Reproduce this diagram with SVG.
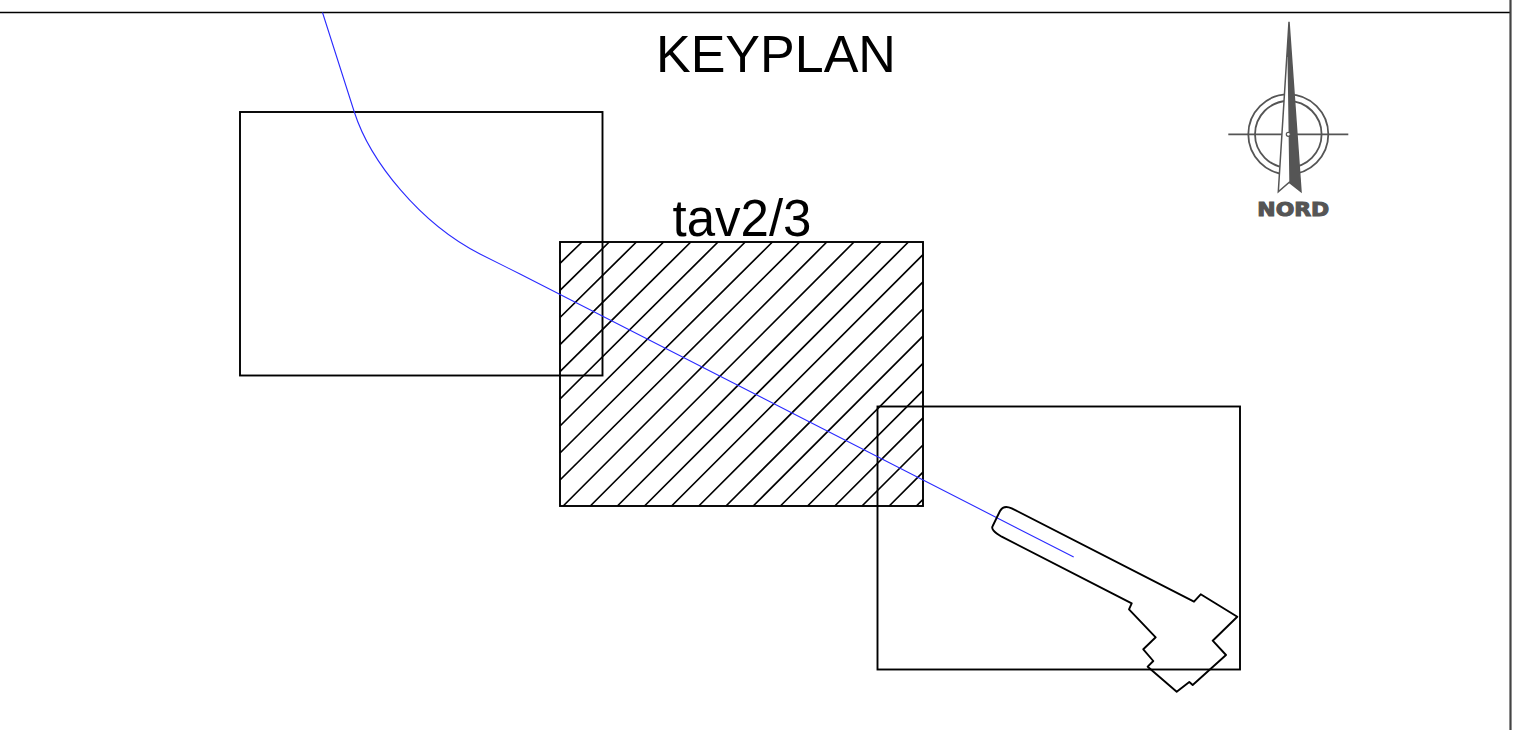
<svg xmlns="http://www.w3.org/2000/svg" width="1530" height="730" viewBox="0 0 1530 730">
<style>
.k{fill:none;stroke:#000;stroke-width:1.9}
.h{fill:none;stroke:#000;stroke-width:1.7}
.b{fill:none;stroke:#2a2aff;stroke-width:1.1}
.n{fill:none;stroke:#555;stroke-width:1.8}
.t{font-family:"Liberation Sans",Arial,sans-serif;fill:#000}
</style>
<rect width="1530" height="730" fill="#fff"/>
<g id="frame">
<path d="M0 12.5H1510.5" fill="none" stroke="#000" stroke-width="1.4"/>
<path d="M1510.5 0V730" fill="none" stroke="#444" stroke-width="2.2"/>
</g>
<text class="t" x="656" y="71.5" font-size="52">KEYPLAN</text>
<text class="t" x="672.5" y="236.3" font-size="51">tav2/3</text>
<path id="hatch" class="h" d="M560 263.3L582 242M560 290.4L609.2 242M560 317.5L636.4 242M560 344.6L663.6 242M560 371.7L690.8 242M560 399L718 242M560 426L745.2 242M560 453L772.4 242M560 480L799.6 242M563.2 506L826.8 242M590.3 506L854 242M617.4 506L881.2 242M644.5 506L908.4 242M671.6 506L923 254.6M698.8 506L923 281.8M726 506L923 309M753.2 506L923 336.2M780.4 506L923 363.4M807.6 506L923 390.6M834.8 506L923 417.8M862 506L923 445M889.2 506L923 472.2M916.4 506L923 499.4"/>
<rect id="sheet-1" class="k" x="240" y="112" width="362.5" height="263.5"/>
<rect id="sheet-2" class="k" x="560" y="242" width="363" height="264"/>
<rect id="sheet-3" class="k" x="877.5" y="406.5" width="362.5" height="263"/>
<path id="axis" class="b" d="M322.5 12.5L354.3 112C370 161 420 223.5 480 254L520 274L1073.7 557"/>
<path id="building" class="k" stroke-linejoin="round" d="M1011.7 508.3L1194 601.7L1200.7 594.3L1237.3 616.7L1212.7 640.7L1226 655L1192.7 685L1189.3 682L1176.7 691.7L1147.7 666.7L1153.3 661L1143.3 649.3L1155.7 637.3L1129 609.3L1131.7 603.3L1001.7 536.7Q990 530 992.7 526L1000 511Q1003.5 504.5 1011.7 508.3Z"/>
<g id="north-arrow">
<circle class="n" cx="1288.3" cy="134.3" r="40"/>
<circle class="n" cx="1288.3" cy="134.3" r="33.3"/>
<path class="n" d="M1228.3 134.3H1348.3"/>
<path d="M1289 21.7L1278.3 191.7L1289.3 182.3L1301 191.7Z" fill="#fff" stroke="#555" stroke-width="1.5" stroke-linejoin="miter"/>
<path d="M1289 21.7L1301 191.7L1289.3 182.3L1287.5 57L1286.8 57Z" fill="#555"/>
<circle cx="1288.3" cy="134.3" r="2" fill="#fff" stroke="#555" stroke-width="1.2"/>
<text x="1293.3" y="216.2" text-anchor="middle" font-family="'DejaVu Sans',sans-serif" font-weight="bold" font-size="20" fill="#555" stroke="#555" stroke-width="1.1" textLength="72" lengthAdjust="spacingAndGlyphs">NORD</text>
</g>
</svg>
